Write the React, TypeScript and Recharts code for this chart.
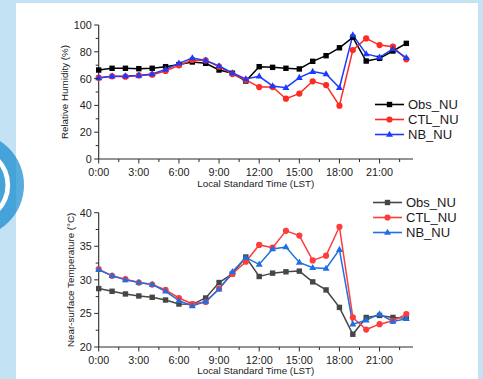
import React from "react";
import { LineChart, Line, XAxis, YAxis, Legend } from "recharts";

// hourly values (LST)
const hours = [0, 1, 2, 3, 4, 5, 6, 7, 8, 9, 10, 11, 12, 13, 14, 15, 16, 17, 18, 19, 20, 21, 22, 23];

const obsRH = [66.4, 67.7, 67.7, 67.4, 67.7, 68.9, 70.5, 72.4, 71.4, 66.4, 64.0, 58.2, 68.9, 68.4, 67.7, 67.2, 72.9, 77.1, 83.0, 90.8, 73.1, 75.1, 80.6, 86.3];
const ctlRH = [60.7, 61.7, 61.4, 62.4, 62.9, 65.7, 69.9, 73.9, 73.6, 68.9, 63.4, 59.0, 53.7, 53.7, 45.0, 48.8, 58.0, 55.2, 39.8, 81.3, 90.0, 85.0, 83.8, 74.4];
const nbRH = [60.4, 61.7, 61.9, 62.4, 63.4, 66.9, 71.4, 75.4, 73.6, 69.4, 64.2, 59.7, 61.7, 54.5, 53.2, 60.7, 65.2, 63.4, 53.2, 92.5, 78.4, 75.9, 82.1, 75.6];

const obsT = [28.7, 28.3, 27.9, 27.6, 27.4, 27.0, 26.4, 26.35, 27.3, 29.6, 30.9, 33.4, 30.5, 31.0, 31.2, 31.3, 29.7, 28.5, 25.9, 21.9, 24.4, 24.7, 24.4, 24.3];
const ctlT = [31.6, 30.6, 30.1, 29.6, 29.3, 28.5, 27.3, 26.4, 26.7, 28.7, 30.9, 32.7, 35.2, 34.8, 37.3, 36.6, 32.9, 33.6, 37.9, 24.4, 22.6, 23.4, 23.9, 24.9];
const nbT = [31.5, 30.6, 30.0, 29.6, 29.3, 28.3, 26.9, 26.1, 26.8, 28.6, 31.2, 33.3, 32.3, 34.6, 34.9, 32.6, 31.8, 31.7, 34.5, 23.4, 24.0, 24.9, 23.8, 24.2];

const xTicks = [0, 1.5, 3, 4.5, 6, 7.5, 9, 10.5, 12, 13.5, 15, 16.5, 18, 19.5, 21, 22.5];
const rhTicks = [0, 10, 20, 30, 40, 50, 60, 70, 80, 90, 100];
const tTicks = [20, 22.5, 25, 27.5, 30, 32.5, 35, 37.5, 40];

const FONT = '"Liberation Sans", Arial, sans-serif';
const AXIS = "#2b2b2b";

const rhData = hours.map((h, i) => ({ h, obs: obsRH[i], ctl: ctlRH[i], nb: nbRH[i] }));
const tData = hours.map((h, i) => ({ h, obs: obsT[i], ctl: ctlT[i], nb: nbT[i] }));

type Shape = "square" | "circle" | "triangle";

function Marker({ shape, cx, cy, color }: { shape: Shape; cx: number; cy: number; color: string }) {
  if (shape === "square") return <rect x={cx - 2.7} y={cy - 2.7} width={5.4} height={5.4} fill={color} />;
  if (shape === "circle") return <circle cx={cx} cy={cy} r={3.1} fill={color} />;
  return <path d={`M${cx},${cy - 3.8}L${cx + 3.5},${cy + 2.3}L${cx - 3.5},${cy + 2.3}Z`} fill={color} />;
}

const makeDot = (shape: Shape, color: string) => (props: any) => {
  const { cx, cy, index } = props;
  if (cx == null || cy == null) return <g key={`e${index}`} />;
  return <Marker key={`d${index}`} shape={shape} cx={cx} cy={cy} color={color} />;
};

const XTick = (props: any) => {
  const { x, y, payload } = props;
  const major = payload.value % 3 === 0;
  return (
    <g>
      <line x1={x} y1={y} x2={x} y2={y + (major ? 4.5 : 3)} stroke={AXIS} strokeWidth={1} />
      {major && (
        <text x={x} y={y + 13} textAnchor="middle" dominantBaseline="central" fontSize={10.8} fill="#222" fontFamily={FONT}>
          {`${payload.value}:00`}
        </text>
      )}
    </g>
  );
};

const makeYTick = (step: number) => (props: any) => {
  const { x, y, payload } = props;
  const major = Math.abs(payload.value / step - Math.round(payload.value / step)) < 1e-6;
  return (
    <g>
      <line x1={x - (major ? 4.5 : 3)} y1={y} x2={x} y2={y} stroke={AXIS} strokeWidth={1} />
      {major && (
        <text x={x - 7} y={y} textAnchor="end" dominantBaseline="central" fontSize={10.8} fill="#222" fontFamily={FONT}>
          {payload.value}
        </text>
      )}
    </g>
  );
};

type Series = { key: string; name: string; color: string; shape: Shape };

const rhSeries: Series[] = [
  { key: "obs", name: "Obs_NU", color: "#000000", shape: "square" },
  { key: "ctl", name: "CTL_NU", color: "#ff2a22", shape: "circle" },
  { key: "nb", name: "NB_NU", color: "#1a3cff", shape: "triangle" },
];

const tSeries: Series[] = [
  { key: "obs", name: "Obs_NU", color: "#464646", shape: "square" },
  { key: "ctl", name: "CTL_NU", color: "#ff3c3c", shape: "circle" },
  { key: "nb", name: "NB_NU", color: "#1f6fe3", shape: "triangle" },
];

const makeLegend = (series: Series[]) => () => (
  <svg width={100} height={46} style={{ display: "block", overflow: "visible" }}>
    {series.map((s, i) => {
      const y = 7.5 + i * 15;
      return (
        <g key={s.key}>
          <line x1={0} y1={y} x2={29} y2={y} stroke={s.color} strokeWidth={1.6} />
          <Marker shape={s.shape} cx={14.5} cy={y} color={s.color} />
          <text x={33} y={y} dominantBaseline="central" fontSize={13} fill="#1a1a1a" fontFamily={FONT}>
            {s.name}
          </text>
        </g>
      );
    })}
  </svg>
);

interface PanelProps {
  data: any[];
  top: number;
  height: number;
  marginTop: number;
  xAxisHeight: number;
  xLabelOffset: number;
  yDomain: [number, number];
  yTicks: number[];
  yStep: number;
  yLabel: string;
  yLabelX: number;
  series: Series[];
  legendLeft: number;
  legendTop: number;
}

function Panel(p: PanelProps) {
  return (
    <div style={{ position: "absolute", left: 0, top: p.top, width: 483, height: p.height }}>
      <LineChart width={483} height={p.height} data={p.data} margin={{ top: p.marginTop, right: 70, bottom: 0, left: 0 }}>
        <XAxis
          dataKey="h"
          type="number"
          domain={[0, 23.5]}
          ticks={xTicks}
          interval={0}
          height={p.xAxisHeight}
          tickSize={0}
          tickMargin={0}
          tickLine={false}
          tick={XTick}
          axisLine={{ stroke: AXIS, strokeWidth: 1.1 }}
          label={{
            value: "Local Standard Time (LST)",
            position: "insideBottom",
            offset: p.xLabelOffset,
            style: { fontSize: 9.8, fill: "#222", fontFamily: FONT },
          }}
        />
        <YAxis
          type="number"
          domain={p.yDomain}
          ticks={p.yTicks}
          interval={0}
          width={98.7}
          tickSize={0}
          tickMargin={0}
          tickLine={false}
          tick={makeYTick(p.yStep)}
          axisLine={{ stroke: AXIS, strokeWidth: 1.1 }}
          label={{
            value: p.yLabel,
            angle: -90,
            position: "insideLeft",
            offset: p.yLabelX,
            style: { textAnchor: "middle", fontSize: 9.8, fill: "#222", fontFamily: FONT },
          }}
        />
        {p.series.map((s) => (
          <Line
            key={s.key}
            dataKey={s.key}
            name={s.name}
            stroke={s.color}
            strokeWidth={1.5}
            dot={makeDot(s.shape, s.color)}
            activeDot={false}
            isAnimationActive={false}
          />
        ))}
        <Legend
          layout="vertical"
          align="center"
          verticalAlign="middle"
          content={makeLegend(p.series)}
          wrapperStyle={{ left: p.legendLeft, top: p.legendTop, width: 100, height: 46 }}
        />
      </LineChart>
    </div>
  );
}

export default function App() {
  return (
    <div style={{ position: "absolute", left: 0, top: 0, width: 483, height: 379, background: "#c3e2f3", overflow: "hidden" }}>
      <div style={{ position: "absolute", left: 16, top: 3, width: 462, height: 376, background: "#ffffff" }} />
      <svg width={40} height={379} style={{ position: "absolute", left: 0, top: 0 }}>
        <circle cx={-28.3} cy={185} r={52.3} fill="#45a3d9" />
        <circle cx={-28.3} cy={185} r={38.5} fill="#ffffff" />
        <circle cx={-28.3} cy={185} r={33.8} fill="#45a3d9" />
        <rect x={16} y={120} width={10} height={130} fill="#ffffff" opacity={0.1} />
      </svg>
      <Panel
        data={rhData}
        top={0}
        height={195}
        marginTop={25}
        xAxisHeight={36}
        xLabelOffset={8}
        yDomain={[0, 100]}
        yTicks={rhTicks}
        yStep={20}
        yLabel="Relative Humidity (%)"
        yLabelX={65}
        series={rhSeries}
        legendLeft={375}
        legendTop={96.5}
      />
      <Panel
        data={tData}
        top={190}
        height={189}
        marginTop={22.7}
        xAxisHeight={32}
        xLabelOffset={5}
        yDomain={[20, 40]}
        yTicks={tTicks}
        yStep={5}
        yLabel="Near-surface Temperature (°C)"
        yLabelX={71}
        series={tSeries}
        legendLeft={373}
        legendTop={5.2}
      />
    </div>
  );
}
